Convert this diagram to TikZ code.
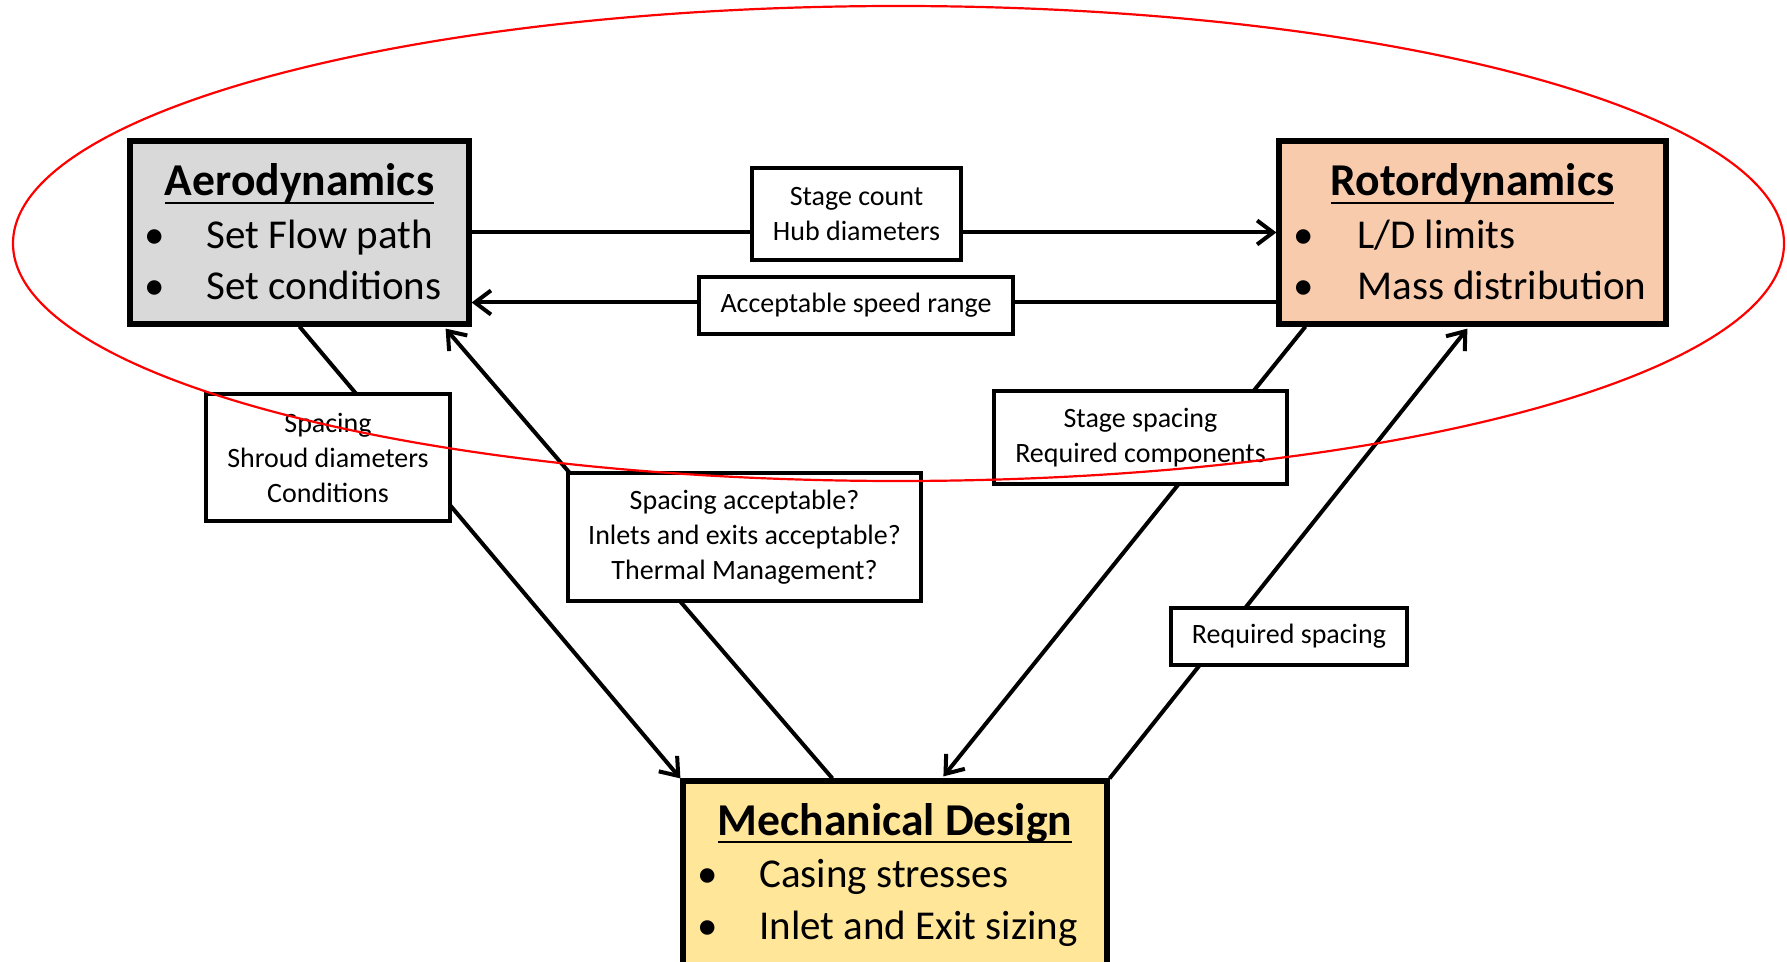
\documentclass[tikz,border=0pt]{standalone}
\usepackage{fontspec}
\setmainfont{Carlito}
\usetikzlibrary{arrows.meta,calc}
\definecolor{aerofill}{HTML}{D9D9D9}
\definecolor{rotorfill}{HTML}{F8CBAD}
\definecolor{mechfill}{HTML}{FFE699}
\definecolor{ovalred}{HTML}{FF0000}
\newcommand\titleul[1]{\setbox0\hbox{#1}\leavevmode\rlap{\rule[-4pt]{\wd0}{1.1pt}}\box0}
\begin{document}
\begin{tikzpicture}[x=0.5pt,y=-0.5pt,
  bigbox/.style={draw=black, line width=2.6pt, inner sep=0pt},
  smallbox/.style={draw=black, line width=2.2pt, fill=white, align=center,
     font=\fontsize{14}{17.5}\selectfont, inner sep=0pt},
  conn/.style={draw=black, line width=2pt},
  arr/.style={conn, -{Straight Barb[length=8pt,width=12pt]}},
  ttl/.style={anchor=base, inner sep=0pt, font=\fontsize{22.8}{27}\selectfont\bfseries},
  itm/.style={anchor=base west, inner sep=0pt, font=\fontsize{20.5}{24}\selectfont},
]
\useasboundingbox (0,0) rectangle (1787,962);

% main boxes
\node[bigbox, fill=aerofill, minimum width=169.5pt, minimum height=91.5pt] (aero) at (299.5,232.5) {};
\node[bigbox, fill=rotorfill, minimum width=193.5pt, minimum height=91.5pt] (rotor) at (1472.5,232.5) {};
\node[bigbox, fill=mechfill, minimum width=212pt, minimum height=110pt] (mech) at (895,891) {};

% texts of main boxes
\node[ttl] (aerot) at (299.5,196) {\titleul{Aerodynamics}};
\node[itm] (aerob1) at (144,249) {•};
\node[itm] (aeroi1) at (206,249) {Set Flow path};
\node[itm] (aerob2) at (144,300) {•};
\node[itm] (aeroi2) at (206,300) {Set conditions};

\node[ttl] (rotort) at (1472.5,196) {\titleul{Rotordynamics}};
\node[itm] (rotorb1) at (1293,249) {•};
\node[itm] (rotori1) at (1357,249) {L/D limits};
\node[itm] (rotorb2) at (1293,300) {•};
\node[itm] (rotori2) at (1357,300) {Mass distribution};

\node[ttl] (mecht) at (895,835) {\titleul{Mechanical Design}};
\node[itm] (mechb1) at (697,887) {•};
\node[itm] (mechi1) at (759,887) {Casing stresses};
\node[itm] (mechb2) at (697,939) {•};
\node[itm] (mechi2) at (759,939) {Inlet and Exit sizing};

% connectors
\draw[arr] (aero.east) -- (rotor.west);
\draw[arr] ([yshift=-35pt]rotor.west) -- ([yshift=-35pt]aero.east);
\draw[arr] (aero.south) -- (mech.north west);
\draw[arr] ($(mech.north west)+(152,0)$) -- ($(aero.south east)+(-26,2)$);
\draw[arr] ($(rotor.south west)+(29,0)$) -- ($(mech.north west)+(263,-2)$);
\draw[arr] (mech.north east) -- ($(rotor.south west)+(191,2)$);

% label boxes
\node[smallbox, minimum width=104.5pt, minimum height=46pt] (stagecount) at (856.5,214) {Stage count\\Hub diameters};
\node[smallbox, minimum width=157pt, minimum height=28.5pt] (speed) at (856,305.5) {Acceptable speed range};
\node[smallbox, minimum width=122pt, minimum height=63.5pt] (spacing) at (328,457.5) {Spacing\\Shroud diameters\\Conditions};
\node[smallbox, minimum width=176.5pt, minimum height=64pt] (accept) at (744.5,537) {Spacing acceptable?\\Inlets and exits acceptable?\\Thermal Management?};
\node[smallbox, minimum width=146.5pt, minimum height=46.5pt] (stagesp) at (1140.5,437.5) {Stage spacing\\Required components};
\node[smallbox, minimum width=118pt, minimum height=28.5pt] (reqsp) at (1289,636.5) {Required spacing};

% red oval
\draw[ovalred, line width=1.1pt] (898.5,243.5) ellipse [x radius=442.75pt, y radius=118.75pt];
\end{tikzpicture}
\end{document}
